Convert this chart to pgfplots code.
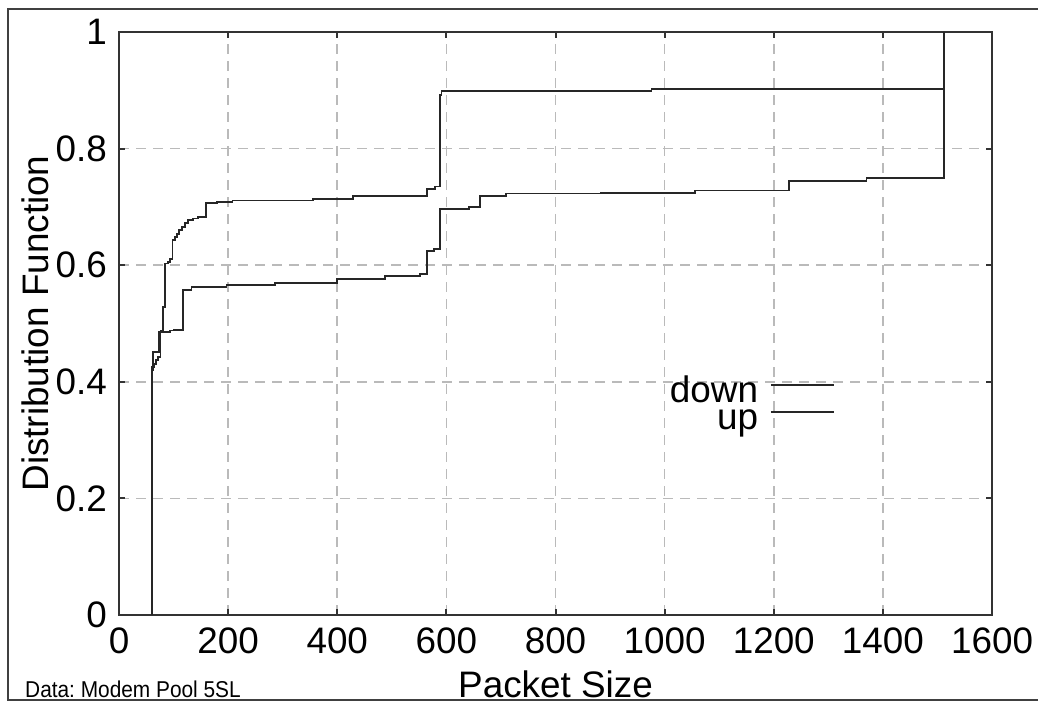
\documentclass[border=0pt]{standalone}
\usepackage{fontspec}
\setmainfont{Liberation Sans}
\usepackage{pgfplots}
\pgfplotsset{compat=1.18}
\begin{document}
\frenchspacing
\begin{tikzpicture}[x=1bp,y=1bp]
\useasboundingbox (0,0) rectangle (1038,704);
\draw[line width=2bp, black!75] (1045,695) -- (8,695) -- (8,4) -- (1045,4);
\node[anchor=base west, inner sep=0pt] at (25,6) {\scalebox{0.91}[1]{\fontsize{23}{25}\selectfont Data: Modem Pool 5SL}};
\begin{axis}[
  at={(119bp,89bp)}, anchor=south west,
  scale only axis, width=873bp, height=583bp,
  xmin=0, xmax=1600, ymin=0, ymax=1,
  xtick={0,200,400,600,800,1000,1200,1400,1600},
  ytick={0,0.2,0.4,0.6,0.8,1},
  /pgf/number format/1000 sep={},
  /pgf/number format/assume math mode=true,
  tick label style={font=\fontsize{37}{40}\selectfont},
  xticklabel style={inner sep=0pt, anchor=north, yshift=-13bp},
  yticklabel style={inner sep=0pt, anchor=east, xshift=-12bp},
  xtick pos=both, ytick pos=both,
  xticklabel pos=lower, yticklabel pos=left,
  tick align=inside,
  major tick length=6bp,
  every tick/.style={line width=2bp, black!80},
  axis line style={line width=2bp, black!80},
  grid=major,
  major grid style={line width=1.6bp, black!27, dash pattern=on 10bp off 7bp},
  xlabel={Packet Size},
  ylabel={Distribution Function},
  every axis x label/.style={at={(axis description cs:0.5,-0.1407)}, anchor=base, inner sep=0pt, font=\fontsize{37}{40}\selectfont},
  every axis y label/.style={at={(axis description cs:-0.0808,0.5)}, anchor=base, rotate=90, inner sep=0pt, font=\fontsize{37}{40}\selectfont},
  legend style={draw=none, fill=none, inner sep=0pt, outer sep=0pt,
    at={(axis cs:1312,0.399)}, anchor=north east,
    font=\fontsize{37}{40}\selectfont,
    nodes={inner sep=0pt, text height=20bp, text depth=7bp},
    row sep=0bp, column sep=12bp},
  legend plot pos=right,
  legend cell align=right,
  legend image code/.code={\draw[#1] (0bp,10.5bp) -- (63bp,10.5bp);},
]
\addplot[const plot, line width=1.8bp, black!85] coordinates {
(60,0) (60,0.42) (62,0.451) (74,0.485) (84,0.486) (93.5,0.488) (100,0.489)
(118,0.558) (133,0.5625) (197,0.5665) (286,0.569) (399,0.5765) (487,0.581)
(552,0.585) (565,0.625) (578,0.628) (588,0.697) (642,0.700) (662,0.719)
(709,0.723) (883,0.7245) (1056,0.728) (1228,0.745) (1370,0.750) (1512,1.0)
};
\addlegendentry{down}
\addplot[const plot, line width=1.8bp, black!85] coordinates {
(60,0) (60,0.425) (64,0.43) (68,0.437) (72,0.443) (76,0.488) (80,0.528)
(84,0.603) (90,0.606) (93.5,0.611) (98,0.643) (102,0.648) (106,0.654) (110,0.66) (115,0.666)
(121,0.672) (127,0.677) (136,0.680) (145,0.683) (159.5,0.707) (179,0.708) (208,0.711)
(356,0.713) (429,0.719) (564,0.731) (579,0.735) (588,0.892) (591,0.899)
(976,0.9016) (1512,1.0)
};
\addlegendentry{up}
\end{axis}
\end{tikzpicture}
\end{document}
